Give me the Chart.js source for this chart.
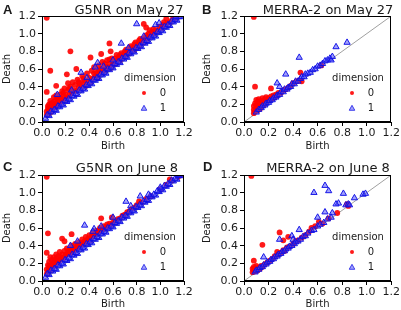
<!DOCTYPE html>
<html><head><meta charset="utf-8">
<script src="https://cdn.jsdelivr.net/npm/chart.js@4/dist/chart.umd.min.js"></script>
<style>
html,body{margin:0;padding:0;background:#fff;}
#wrap{position:relative;width:401px;height:310px;overflow:hidden;font-family:"DejaVu Sans",sans-serif;color:#1a1a1a;}
canvas{position:absolute;}
.ttl{position:absolute;font-size:13px;white-space:nowrap;transform:translate(-50%,-50%);line-height:1;}
.let{position:absolute;font:bold 13px "Liberation Sans",Arial,sans-serif;line-height:1;}
.lg{position:absolute;font-size:10px;line-height:1;white-space:nowrap;transform:translate(-50%,-50%);}
.mk{position:absolute;transform:translate(-50%,-50%);}
</style>
</head><body><div id="wrap"></div>
<script>
// ---- tick labels ----
const tickVals = [0, 0.2, 0.4, 0.6, 0.8, 1.0, 1.2];
const diag = [[0, 0], [1.2, 1.2]];
const legendLabels = ['0', '1'];
const legendTitle = 'dimension';

// ---- Panel A : G5NR on May 27 ----
const a0 = [
[0.04,1.18],[0.04,0.34],[0.07,0.58],[0.12,0.41],[0.21,0.54],[0.24,0.80],[0.29,0.60],[0.41,0.73],[0.50,0.77],[0.57,0.89],[0.58,0.80],[0.86,1.11],[0.88,1.07],[0.91,1.04],[1.05,1.17],[1.03,1.13],
[0.04,0.08],[0.04,0.12],[0.05,0.15],[0.05,0.18],[0.06,0.10],[0.06,0.20],[0.07,0.14],[0.07,0.24],[0.08,0.12],[0.08,0.18],[0.09,0.22],[0.09,0.15],[0.10,0.19],[0.10,0.28],[0.11,0.17],[0.11,0.24],[0.12,0.21],[0.12,0.30],[0.13,0.19],[0.13,0.26],[0.14,0.23],[0.15,0.31],[0.15,0.20],[0.16,0.27],[0.17,0.24],[0.17,0.35],[0.18,0.29],[0.19,0.25],[0.19,0.38],[0.20,0.31],[0.21,0.27],[0.22,0.36],[0.22,0.44],[0.23,0.30],[0.24,0.40],[0.25,0.33],[0.26,0.45],[0.27,0.36],[0.28,0.42],[0.29,0.35],[0.30,0.48],[0.31,0.39],[0.32,0.44],[0.33,0.38],[0.34,0.52],[0.35,0.43],[0.36,0.47],[0.37,0.41],[0.38,0.55],[0.39,0.46],[0.40,0.50],[0.41,0.45],[0.42,0.58],[0.43,0.49],[0.44,0.62],[0.45,0.52],[0.46,0.56],[0.47,0.50],[0.48,0.64],[0.49,0.55],[0.50,0.60],[0.51,0.68],[0.52,0.57],[0.53,0.63],[0.54,0.59],[0.55,0.70],[0.56,0.62],[0.57,0.66],[0.58,0.61],[0.59,0.72],[0.60,0.65],[0.61,0.69],[0.62,0.66],[0.63,0.76],[0.64,0.70],[0.65,0.74],[0.66,0.70],[0.67,0.78],[0.68,0.73],[0.69,0.76],[0.70,0.74],[0.71,0.82],[0.72,0.77],[0.73,0.80],[0.74,0.78],[0.75,0.86],[0.76,0.81],[0.77,0.84],[0.78,0.82],[0.79,0.90],[0.80,0.85],[0.81,0.88],[0.82,0.86],[0.83,0.94],[0.84,0.89],[0.85,0.92],[0.87,0.91],[0.88,0.98],[0.89,0.94],[0.90,0.96],[0.92,0.97],[0.93,1.02],[0.95,1.00],[0.96,1.04],[0.98,1.03],[0.99,1.08],[1.01,1.06],[1.02,1.10],[1.04,1.09],[1.06,1.12],[1.08,1.13],[1.10,1.16],[1.12,1.17],[1.14,1.19],
[0.06,0.13],[0.08,0.21],[0.10,0.16],[0.14,0.28],[0.18,0.33],[0.20,0.26],[0.23,0.38],[0.26,0.34],[0.31,0.45],[0.35,0.49],[0.44,0.55],[0.48,0.58],[0.53,0.66],[0.57,0.71],[0.62,0.72],[0.66,0.76],[0.70,0.80],[0.74,0.84],[0.78,0.88],[0.82,0.92],[0.86,0.95],[0.90,1.00],[0.94,1.05]
];
const a1 = [
[0.03,0.04],[0.06,0.07],[0.09,0.11],[0.12,0.13],[0.15,0.17],[0.18,0.19],[0.21,0.23],[0.24,0.25],[0.27,0.29],[0.30,0.31],[0.33,0.35],[0.36,0.37],[0.39,0.41],[0.42,0.43],[0.45,0.47],[0.48,0.49],[0.51,0.53],[0.54,0.55],[0.57,0.59],[0.60,0.61],[0.63,0.65],[0.66,0.67],[0.69,0.71],[0.72,0.73],[0.75,0.77],[0.78,0.79],[0.81,0.83],[0.84,0.85],[0.87,0.89],[0.90,0.91],[0.93,0.95],[0.96,0.97],[0.99,1.01],[1.02,1.03],[1.05,1.07],[1.08,1.09],[1.11,1.13],[1.14,1.15],[1.17,1.19],
[0.045,0.08],[0.075,0.12],[0.105,0.14],[0.135,0.18],[0.165,0.20],[0.195,0.24],[0.225,0.26],[0.255,0.30],[0.285,0.32],[0.315,0.36],[0.345,0.38],[0.375,0.42],[0.405,0.44],[0.435,0.48],[0.465,0.50],[0.495,0.54],[0.525,0.56],[0.555,0.60],[0.585,0.62],[0.615,0.66],[0.645,0.68],[0.675,0.72],[0.705,0.74],[0.735,0.78],[0.765,0.80],[0.795,0.84],[0.825,0.86],[0.855,0.90],[0.885,0.92],[0.915,0.96],[0.945,0.98],[0.975,1.02],[1.005,1.04],[1.035,1.08],[1.065,1.10],[1.095,1.14],[1.125,1.16],[1.155,1.19],
[0.13,0.31],[0.33,0.56],[0.47,0.67],[0.67,0.89],[0.80,1.11],[0.96,1.10],[0.99,1.12],[1.13,1.19],[0.45,0.62],[0.52,0.63],[0.60,0.70],[0.73,0.84],[0.86,0.97],[0.25,0.36],[0.38,0.50]
];

// ---- Panel B : MERRA-2 on May 27 ----
const b0 = [
[0.08,1.19],[0.09,0.40],[0.10,0.25],[0.22,0.38],[0.46,0.56],[0.47,0.46],[0.63,0.64],
[0.08,0.10],[0.08,0.14],[0.08,0.18],[0.09,0.12],[0.09,0.21],[0.10,0.16],[0.10,0.19],[0.11,0.13],[0.11,0.23],[0.12,0.17],[0.12,0.26],[0.13,0.15],[0.13,0.20],[0.14,0.24],[0.14,0.18],[0.15,0.21],[0.15,0.27],[0.16,0.19],[0.16,0.23],[0.17,0.26],[0.18,0.22],[0.18,0.28],[0.19,0.24],[0.20,0.27],[0.21,0.25],[0.22,0.29],[0.23,0.27],[0.24,0.30],[0.25,0.28],[0.26,0.31],[0.27,0.30],[0.28,0.33],[0.30,0.33],[0.32,0.36],[0.34,0.37],[0.36,0.39],[0.38,0.41],[0.40,0.44],[0.43,0.46],[0.45,0.47]
];
const b1 = [
[0.84,0.90],[0.75,0.85],[0.45,0.73],[0.34,0.54],[0.27,0.44],[0.29,0.40],
[0.10,0.11],[0.12,0.14],[0.14,0.16],[0.15,0.18],[0.17,0.19],[0.18,0.21],[0.20,0.22],[0.21,0.24],[0.23,0.25],[0.24,0.27],[0.26,0.28],[0.27,0.30],[0.29,0.31],[0.30,0.34],[0.32,0.34],[0.33,0.37],[0.35,0.37],[0.36,0.39],[0.38,0.40],[0.39,0.43],[0.41,0.43],[0.42,0.46],[0.44,0.46],[0.46,0.49],[0.47,0.51],[0.49,0.51],[0.50,0.54],[0.52,0.55],[0.54,0.56],[0.56,0.59],[0.58,0.60],[0.60,0.63],[0.62,0.64],[0.64,0.66],[0.66,0.69],[0.68,0.70],[0.70,0.72],[0.71,0.70],[0.72,0.74]
];

// ---- Panel C : G5NR on June 8 ----
const c0 = [
[0.04,1.18],[0.05,0.54],[0.04,0.32],[0.17,0.48],[0.25,0.53],[0.19,0.45],[0.50,0.71],[0.59,0.72],[0.82,0.90],[1.08,1.15],[1.15,1.18],[1.17,1.20],
[0.04,0.08],[0.04,0.13],[0.05,0.18],[0.05,0.10],[0.06,0.22],[0.06,0.14],[0.07,0.12],[0.07,0.27],[0.08,0.18],[0.08,0.24],[0.09,0.15],[0.10,0.21],[0.10,0.27],[0.11,0.18],[0.12,0.25],[0.12,0.30],[0.13,0.22],[0.14,0.28],[0.15,0.24],[0.15,0.33],[0.16,0.27],[0.17,0.30],[0.18,0.26],[0.19,0.34],[0.20,0.30],[0.21,0.37],[0.22,0.32],[0.23,0.35],[0.24,0.31],[0.25,0.40],[0.26,0.35],[0.27,0.38],[0.28,0.42],[0.29,0.37],[0.30,0.40],[0.31,0.44],[0.32,0.39],[0.33,0.43],[0.34,0.47],[0.35,0.42],[0.36,0.45],[0.37,0.50],[0.38,0.46],[0.39,0.48],[0.40,0.52],[0.41,0.48],[0.42,0.51],[0.43,0.55],[0.44,0.51],[0.45,0.54],[0.46,0.57],[0.47,0.53],[0.48,0.56],[0.49,0.60],[0.50,0.57],[0.51,0.59],[0.52,0.62],[0.53,0.59],[0.54,0.61],[0.55,0.64],[0.56,0.62],[0.57,0.65],[0.58,0.63],[0.60,0.66],[0.62,0.68],[0.64,0.70],[0.66,0.71],[0.68,0.74],[0.70,0.75],[0.72,0.78],[0.74,0.79],[0.76,0.82],[0.78,0.83],[0.80,0.86],[0.84,0.89],[0.88,0.93],[0.92,0.96],[1.00,1.04],[1.05,1.09],[1.10,1.14],
[0.06,0.17],[0.09,0.20],[0.11,0.24],[0.14,0.21],[0.17,0.25],[0.21,0.30],[0.24,0.36],[0.27,0.33],[0.31,0.38],[0.34,0.41],[0.38,0.44],[0.41,0.46]
];
const c1 = [
[0.03,0.04],[0.06,0.07],[0.09,0.11],[0.12,0.13],[0.15,0.17],[0.18,0.19],[0.21,0.23],[0.24,0.25],[0.27,0.29],[0.30,0.31],[0.33,0.35],[0.36,0.37],[0.39,0.41],[0.42,0.43],[0.45,0.47],[0.48,0.49],[0.51,0.53],[0.54,0.55],[0.57,0.59],[0.60,0.61],[0.63,0.65],[0.66,0.67],[0.69,0.71],[0.72,0.73],[0.75,0.77],[0.78,0.79],[0.81,0.83],[0.84,0.85],[0.87,0.89],[0.90,0.91],[0.93,0.95],[0.96,0.97],[0.99,1.01],[1.02,1.03],[1.05,1.07],[1.08,1.09],[1.11,1.13],[1.14,1.15],[1.17,1.19],
[0.045,0.08],[0.075,0.12],[0.105,0.14],[0.135,0.18],[0.165,0.20],[0.195,0.24],[0.225,0.26],[0.255,0.30],[0.285,0.32],[0.315,0.36],[0.345,0.38],[0.375,0.42],[0.405,0.44],[0.435,0.48],[0.465,0.50],[0.495,0.54],[0.525,0.56],[0.555,0.60],[0.585,0.62],[0.615,0.66],[0.645,0.68],[0.675,0.72],[0.705,0.74],[0.735,0.78],[0.765,0.80],[0.795,0.84],[0.825,0.86],[0.855,0.90],[0.885,0.92],[0.915,0.96],[0.945,0.98],[0.975,1.02],[1.005,1.04],[1.035,1.08],[1.065,1.10],[1.095,1.14],[1.125,1.16],[1.155,1.19],
[0.36,0.63],[0.44,0.59],[0.43,0.56],[0.71,0.90],[0.83,0.96],[0.24,0.40],[0.30,0.45],[0.50,0.62],[0.60,0.72],[0.75,0.85],[0.90,0.98],[1.00,1.06],[1.15,1.20]
];

// ---- Panel D : MERRA-2 on June 8 ----
const d0 = [
[0.06,1.19],[0.08,0.23],[0.15,0.41],[0.29,0.55],[0.36,0.50],[0.32,0.46],[0.61,0.67],[0.69,0.71],[0.76,0.77],[0.84,0.87],[0.85,0.85],
[0.07,0.10],[0.07,0.14],[0.08,0.12],[0.08,0.16],[0.09,0.11],[0.09,0.14],[0.10,0.13],[0.10,0.17],[0.11,0.12],[0.12,0.15],[0.13,0.14],[0.14,0.17],[0.15,0.16],[0.17,0.19],[0.19,0.21],[0.21,0.23],[0.23,0.25],[0.25,0.28],[0.27,0.33],[0.28,0.30],[0.30,0.32],[0.32,0.35],[0.33,0.34],[0.35,0.38],[0.37,0.39],[0.40,0.42],[0.42,0.45],[0.44,0.46],[0.47,0.49],[0.50,0.52],[0.53,0.56],[0.55,0.60],[0.58,0.62],[0.64,0.65]
];
const d1 = [
[0.66,1.08],[0.69,1.02],[0.57,1.00],[0.81,0.99],[0.90,0.94],[0.97,0.98],[0.99,0.99],[0.77,0.88],[0.66,0.78],[0.72,0.77],[0.75,0.87],[0.45,0.58],[0.16,0.27],[0.83,0.86],[0.85,0.87],[0.86,0.86],[0.39,0.51],[0.40,0.47],[0.29,0.47],[0.60,0.72],
[0.09,0.10],[0.10,0.12],[0.12,0.13],[0.13,0.15],[0.15,0.16],[0.16,0.18],[0.18,0.19],[0.19,0.21],[0.21,0.22],[0.22,0.24],[0.24,0.25],[0.25,0.27],[0.27,0.28],[0.28,0.30],[0.30,0.31],[0.31,0.33],[0.33,0.34],[0.34,0.36],[0.36,0.37],[0.37,0.39],[0.39,0.40],[0.41,0.42],[0.42,0.44],[0.44,0.45],[0.46,0.47],[0.48,0.50],[0.50,0.51],[0.52,0.54],[0.55,0.57],[0.57,0.58],[0.60,0.62],[0.62,0.64],[0.65,0.66],[0.68,0.70],[0.71,0.72]
];

// ---- layout (positions & styles, separate from data) ----
const panels = [
  {letter:'A', title:'G5NR on May 27',     s0:a0, s1:a1, box:{l:0,t:0,w:200,h:152},   plot:{l:42,r:184,t:16,b:122},  tx:129, ty:8.5, lx:3,   ly:3,   legX:150},
  {letter:'B', title:'MERRA-2 on May 27',  s0:b0, s1:b1, box:{l:200,t:0,w:201,h:152}, plot:{l:244,r:392,t:16,b:122}, tx:328, ty:8.5, lx:202, ly:3,   legX:358},
  {letter:'C', title:'G5NR on June 8',     s0:c0, s1:c1, box:{l:0,t:159,w:200,h:151}, plot:{l:42,r:184,t:175,b:281}, tx:127, ty:167, lx:3,   ly:160, legX:150},
  {letter:'D', title:'MERRA-2 on June 8',  s0:d0, s1:d1, box:{l:200,t:159,w:201,h:151},plot:{l:244,r:392,t:175,b:281},tx:328, ty:167, lx:203, ly:160, legX:358}
];
const FONT = "'DejaVu Sans', sans-serif";
const TXT = '#1a1a1a';
const RED = 'rgba(255,0,0,0.9)';
const BLUE_EDGE = 'rgba(15,15,230,0.95)';
const BLUE_FILL = 'rgba(70,70,250,0.5)';

const frame = {
  id:'frame',
  afterDatasetsDraw(chart){
    const {ctx, chartArea:a} = chart;
    ctx.save(); ctx.strokeStyle = '#000'; ctx.lineWidth = 1;
    ctx.strokeRect(Math.round(a.left)+0.5, Math.round(a.top)+0.5, Math.round(a.right-a.left)-1, Math.round(a.bottom-a.top)-1);
    ctx.restore();
  }
};

const wrap = document.getElementById('wrap');
const toXY = arr => arr.map(([x,y]) => ({x, y}));

panels.forEach(p => {
  const cv = document.createElement('canvas');
  cv.width = p.box.w; cv.height = p.box.h;
  cv.style.left = p.box.l + 'px'; cv.style.top = p.box.t + 'px';
  cv.style.width = p.box.w + 'px'; cv.style.height = p.box.h + 'px';
  wrap.appendChild(cv);

  const axisCommon = {
    type:'linear', min:0, max:1.2,
    afterBuildTicks: s => { s.ticks = tickVals.map(v => ({value:v})); },
    ticks:{callback: v => Number(v).toFixed(1), font:{family:FONT, size:11}, color:TXT, autoSkip:false, maxRotation:0},
    grid:{drawOnChartArea:false, drawTicks:true, tickLength:4, color:'#000', tickWidth:1},
    border:{display:true, color:'#000', width:1}
  };

  new Chart(cv.getContext('2d'), {
    type:'scatter',
    data:{datasets:[
      {label:'diag', data: toXY(diag), showLine:true, borderColor:'#a0a0a0', borderWidth:1, pointRadius:0, order:3},
      {label:legendLabels[0], data: toXY(p.s0), pointStyle:'circle', pointRadius:2.9, backgroundColor:RED, borderWidth:0, order:2},
      {label:legendLabels[1], data: toXY(p.s1), pointStyle:'triangle', pointRadius:3.6, backgroundColor:BLUE_FILL, borderColor:BLUE_EDGE, borderWidth:1, order:1}
    ]},
    options:{
      responsive:false, animation:false, devicePixelRatio:1,
      layout:{padding:{left:0, top:p.plot.t - p.box.t, right:(p.box.l + p.box.w) - p.plot.r, bottom:0}},
      plugins:{legend:{display:false}, tooltip:{enabled:false}, title:{display:false}},
      scales:{
        x: Object.assign({}, axisCommon, {
          afterFit: s => { s.height = (p.box.t + p.box.h) - p.plot.b; },
          ticks: Object.assign({}, axisCommon.ticks, {padding:1}),
          title:{display:true, text:'Birth', font:{family:FONT, size:10}, color:TXT, padding:0}
        }),
        y: Object.assign({}, axisCommon, {
          afterFit: s => { s.width = p.plot.l - p.box.l; },
          ticks: Object.assign({}, axisCommon.ticks, {padding:2}),
          title:{display:true, text:'Death', font:{family:FONT, size:10}, color:TXT, padding:{top:1, bottom:0}}
        })
      }
    },
    plugins:[frame]
  });

  // panel letter and title
  const L = document.createElement('div'); L.className='let'; L.textContent=p.letter;
  L.style.left = p.lx+'px'; L.style.top = p.ly+'px'; wrap.appendChild(L);
  const T = document.createElement('div'); T.className='ttl'; T.textContent=p.title;
  T.style.left = p.tx+'px'; T.style.top = p.ty+'px'; wrap.appendChild(T);

  // legend
  const yT = p.plot.b - 44, y0 = p.plot.b - 29, y1 = p.plot.b - 14;
  const lt = document.createElement('div'); lt.className='lg'; lt.textContent = legendTitle;
  lt.style.left = p.legX+'px'; lt.style.top = yT+'px'; wrap.appendChild(lt);
  [[y0, legendLabels[0], '<svg width="6" height="6"><circle cx="3" cy="3" r="2" fill="'+RED+'"/></svg>'],
   [y1, legendLabels[1], '<svg width="7" height="7"><polygon points="3.5,0.8 6.3,5.8 0.7,5.8" fill="'+BLUE_FILL+'" stroke="'+BLUE_EDGE+'" stroke-width="0.8"/></svg>']
  ].forEach(([yy, lab, svg]) => {
    const m = document.createElement('div'); m.className='mk'; m.innerHTML = svg;
    m.style.left = (p.legX-6)+'px'; m.style.top = yy+'px'; m.style.lineHeight='0'; wrap.appendChild(m);
    const t = document.createElement('div'); t.className='lg'; t.textContent = lab;
    t.style.left = (p.legX+13)+'px'; t.style.top = yy+'px'; wrap.appendChild(t);
  });
});
</script>
</body></html>
